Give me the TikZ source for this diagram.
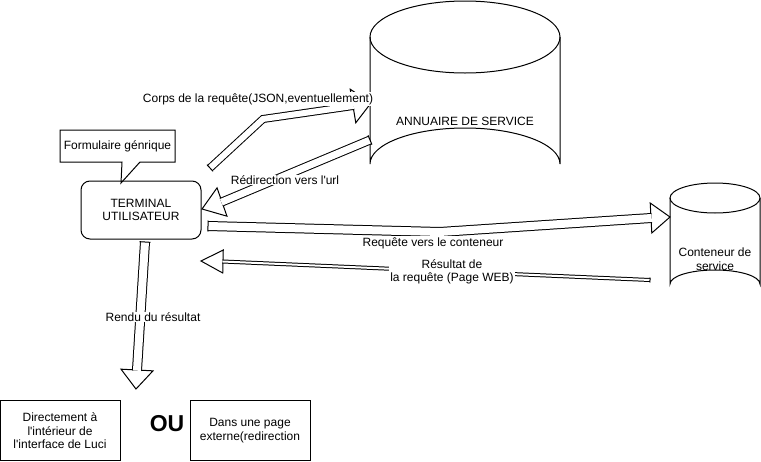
\documentclass[tikz,border=0pt]{standalone}
\usepackage{fontspec}
\setmainfont{Liberation Sans}
\usetikzlibrary{calc}
\tikzset{
  txt/.style={font=\fontsize{12}{13.6}\selectfont, align=center, inner sep=1pt},
  lbl/.style={txt, fill=white, inner sep=1pt},
  outline/.style={draw=black, line width=1pt},
  shaft/.style={draw=black, line width=1pt, double=white, double distance=#1, line join=miter, line cap=butt},
  headst/.style={draw=black, line width=1pt, fill=white, line join=miter},
}
\newcommand\flexarrowhead[3]{\draw[headst] ($(#1)!#3!90:(#2)$) -- (#2) -- ($(#1)!#3!-90:(#2)$) -- cycle;}
\newcommand\flexarrowtail[3]{\draw[line width=1pt] ($(#1)!#3!90:(#2)$) -- ($(#1)!#3!-90:(#2)$);}
\newcommand\sq{\textquotesingle}
\begin{document}
\begin{tikzpicture}[x=1pt, y=-1pt]
\useasboundingbox (0,0) rectangle (761,461);

% Annuaire cylinder
\draw[outline, fill=white] (370,37) -- (370,164) arc[start angle=180, end angle=360, x radius=95, y radius=36] -- (560,37);
\draw[outline] (465,37) ellipse[x radius=95, y radius=36];
\node[txt] (annuaire) at (465,121) {ANNUAIRE DE SERVICE};

% Conteneur cylinder
\draw[outline, fill=white] (670,198) -- (670,284) arc[start angle=180, end angle=360, x radius=45, y radius=14] -- (760,198);
\draw[outline] (715,198) ellipse[x radius=45, y radius=15];
\node[txt] (conteneur) at (715,259.5) {Conteneur de\\service};

% Terminal
\draw[outline, rounded corners=9pt] (81,181) rectangle (201,239);
\node[txt] (terminal) at (141,210) {TERMINAL\\UTILISATEUR};

% Callout
\node[txt] (callout) at (117.5,146) {Formulaire génrique};
\draw[outline, line join=miter] (60,130) -- (175,130) -- (175,162) -- (140,162) -- (121,183) -- (122,162) -- (60,162) -- cycle;

% Bottom boxes
\draw[outline] (0.5,400) rectangle (120,460);
\node[txt] (direct) at (60,431) {Directement à\\l\sq intérieur de\\l\sq interface de Luci};
\draw[outline] (190,400) rectangle (310,460);
\node[txt] (externe) at (250,430.5) {Dans une page\\externe(redirection};
\node[font=\fontsize{23}{25}\selectfont\bfseries, inner sep=0pt] (ou) at (167,424) {OU};

% Arrow 1 : Corps de la requete
\coordinate (a1t) at (210,168);
\coordinate (a1m) at (263,119);
\coordinate (a1b) at (353,106);
\coordinate (a1h) at (371,103);
\flexarrowhead{a1b}{a1h}{17pt}
\draw[shaft=6pt] (a1t) -- (a1m) -- ($(a1b)!0.7pt!(a1h)$);
\flexarrowtail{a1t}{a1m}{4.5pt}

% Arrow 2 : Redirection
\coordinate (a2t) at (370,140);
\coordinate (a2b) at (222,202);
\coordinate (a2h) at (202,209);
\flexarrowhead{a2b}{a2h}{15pt}
\draw[shaft=7pt] (a2t) -- ($(a2b)!0.7pt!(a2h)$);
\flexarrowtail{a2t}{a2b}{5pt}

% Arrow 3 : Requete vers le conteneur
\coordinate (a3t) at (208,226);
\coordinate (a3m) at (440,232);
\coordinate (a3b) at (651,218);
\coordinate (a3h) at (670,217);
\flexarrowhead{a3b}{a3h}{15pt}
\draw[shaft=8pt] (a3t) -- (a3m) -- ($(a3b)!0.7pt!(a3h)$);
\flexarrowtail{a3t}{a3m}{5.5pt}

% Arrow 4 : Resultat
\coordinate (a4t) at (650,280);
\coordinate (a4b) at (223,261.5);
\coordinate (a4h) at (201,261);
\flexarrowhead{a4b}{a4h}{11.5pt}
\draw[shaft=2pt] (a4t) -- ($(a4b)!0.7pt!(a4h)$);
\flexarrowtail{a4t}{a4b}{2.5pt}

% Arrow 5 : Rendu
\coordinate (a5t) at (145,242);
\coordinate (a5b) at (137,370);
\coordinate (a5h) at (136,389);
\flexarrowhead{a5b}{a5h}{16pt}
\draw[shaft=8pt] (a5t) -- ($(a5b)!0.7pt!(a5h)$);
\flexarrowtail{a5t}{a5b}{5.5pt}

% Labels
\node[lbl] (l1) at (258,99) {Corps de la requête(JSON,eventuellement)};
\node[lbl] (l2) at (285,180) {Rédirection vers l\sq url};
\node[lbl] (l3) at (433,243) {Requête vers le conteneur};
\node[lbl] (l4) at (452,272) {Résultat de\\la requête (Page WEB)};
\node[lbl] (l5) at (153,317) {Rendu du résultat};
\end{tikzpicture}
\end{document}
